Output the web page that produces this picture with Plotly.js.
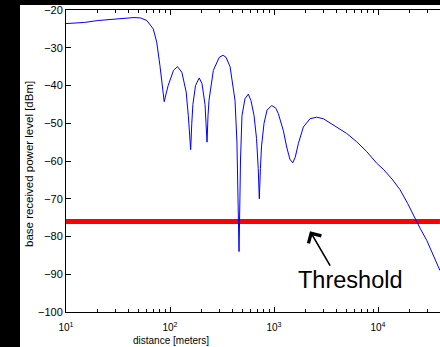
<!DOCTYPE html>
<html>
<head>
<meta charset="utf-8">
<script src="https://cdn.plot.ly/plotly-3.0.1.min.js"></script>
<style>
  html, body { margin: 0; padding: 0; background: #000; overflow: hidden; width: 440px; height: 347px; }
  #plot { position: absolute; left: 20px; top: 5px; width: 420px; height: 342px; background: #fff; }
</style>
</head>
<body>
<div id="plot"></div>
<script>
// ---- data ----
const distanceM = [10, 15, 20, 33, 45, 52, 60, 69, 74.5, 80, 84, 88, 92, 96, 108, 118, 130, 143, 150, 155, 158,
  162, 166, 176, 191, 203, 217, 222, 227, 232, 237, 261, 298, 324, 345, 378, 403, 422, 440, 452, 461, 470, 476,
  492, 526, 566, 601, 643, 679, 705, 722, 740, 759, 802, 857, 950, 1040, 1099, 1228, 1324, 1420, 1513, 1600,
  1714, 1915, 2220, 2574, 2980, 3718, 5000, 6237, 7785, 9720, 11250, 13650, 16280, 19230, 22700, 25370, 29400, 33800, 39400];
const powerDbm = [-23.6, -23.3, -22.8, -22.2, -22.0, -22.1, -22.8, -25, -28.5, -34.7, -39, -44.3, -42, -40, -36, -35, -36.5, -41.7, -48, -54, -57,
  -50, -45, -40, -38, -39.5, -45, -50, -55, -48, -44, -36, -32.5, -32, -32.5, -35, -40, -44, -55, -70, -84, -70, -60,
  -48, -43.5, -42.3, -44, -48, -54, -62, -70, -62, -56, -50, -46.5, -45.3, -46, -47.4, -51.9, -56.3, -59.5, -60.5, -59,
  -55.4, -51, -48.8, -48.4, -48.8, -50.5, -52.7, -54.9, -57.5, -60.6, -62.2, -64.8, -67.6, -71.2, -75.3, -77.8, -81, -84.7, -89];
const thresholdDbm = -76;
const thresholdX = [10, 39400];
const xTickVals = [10, 100, 1000, 10000];
const xTickText = ['10<sup>1</sup>', '10<sup>2</sup>', '10<sup>3</sup>', '10<sup>4</sup>'];
const xMinorVals = [20,30,40,50,60,70,80,90, 200,300,400,500,600,700,800,900,
  2000,3000,4000,5000,6000,7000,8000,9000, 20000,30000,40000];
const yTickVals = [-100, -90, -80, -70, -60, -50, -40, -30, -20];
const arrowTip = {d: 2218, p: -78.6};
const labelPos = {d: 5450, p: -91.5};

const font = 'Liberation Sans, Arial, Helvetica, sans-serif';

const traces = [
  {
    x: thresholdX, y: thresholdX.map(() => thresholdDbm),
    type: 'scatter', mode: 'lines',
    line: {color: '#ff0000', width: 5},
    hoverinfo: 'skip', showlegend: false
  },
  {
    x: distanceM, y: powerDbm,
    type: 'scatter', mode: 'lines',
    line: {color: '#0000ff', width: 1},
    showlegend: false
  }
];

const layout = {
  width: 420, height: 342,
  margin: {l: 46, r: 0, t: 5, b: 35},
  paper_bgcolor: '#ffffff', plot_bgcolor: '#ffffff',
  font: {family: font, color: '#000', size: 11},
  showlegend: false,
  xaxis: {
    type: 'log',
    range: [1, 4.596],
    showgrid: false, zeroline: false,
    showline: true, linecolor: '#000', linewidth: 1, mirror: 'ticks',
    ticks: 'inside', ticklen: 5, tickcolor: '#000', tickwidth: 1,
    tickmode: 'array', tickvals: xTickVals, ticktext: xTickText,
    tickfont: {family: font, size: 10, color: '#000'},
    ticklabelstandoff: 6,
    ticklabeloverflow: 'allow',
    minor: {tickmode: 'array', tickvals: xMinorVals, ticks: 'inside', ticklen: 3, tickcolor: '#000', tickwidth: 1, showgrid: false}
  },
  yaxis: {
    range: [-100, -20],
    showgrid: false, zeroline: false,
    showline: true, linecolor: '#000', linewidth: 1, mirror: false,
    ticks: 'inside', ticklen: 5, tickcolor: '#000', tickwidth: 1,
    tickmode: 'array', tickvals: yTickVals,
    tickfont: {family: font, size: 11, color: '#000'},
    ticklabelstandoff: 0,
    ticklabeloverflow: 'allow'
  },
  annotations: [
    {
      xref: 'x', yref: 'y',
      x: Math.log10(arrowTip.d), y: arrowTip.p,
      text: '', showarrow: true,
      axref: 'pixel', ayref: 'pixel', ax: 21, ay: 36,
      arrowhead: 4, arrowsize: 1.8, arrowwidth: 1.6, arrowcolor: '#000'
    },
    {
      xref: 'x', yref: 'y',
      x: Math.log10(labelPos.d), y: labelPos.p,
      text: 'Threshold', showarrow: false,
      xanchor: 'center', yanchor: 'middle',
      font: {family: font, size: 23.5, color: '#000'}
    },
    {
      xref: 'paper', yref: 'paper',
      x: 0.282, y: -0.096,
      text: 'distance [meters]', showarrow: false,
      xanchor: 'center', yanchor: 'middle',
      font: {family: font, size: 10, color: '#000'}
    },
    {
      xref: 'paper', yref: 'paper',
      x: -0.099, y: 0.49,
      text: 'base received power level [dBm]', showarrow: false,
      textangle: -90,
      xanchor: 'center', yanchor: 'middle',
      font: {family: font, size: 11.5, color: '#000'}
    }
  ]
};

Plotly.newPlot('plot', traces, layout, {displayModeBar: false, staticPlot: true});
</script>
</body>
</html>
